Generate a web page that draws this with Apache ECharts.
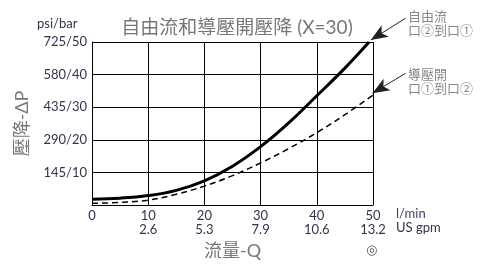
<!DOCTYPE html>
<html>
<head>
<meta charset="utf-8">
<style>
  html, body { margin: 0; padding: 0; background: #fff; }
  #chart { width: 493px; height: 272px; }
</style>
<script src="https://cdn.jsdelivr.net/npm/echarts@6/dist/echarts.min.js"></script>
</head>
<body>
<div id="chart"></div>
<script>
  // flow in l/min, pressure drop in bar
  const freeFlow = [[0, 1.8], [5, 2.1], [10, 2.9], [15, 4.5], [20, 7.4], [25, 11.9], [30, 17.9], [35, 25.2], [40, 33.5], [45, 42.0], [49.3, 50]];
  const pilotOpen = [[0, 0.5], [5, 0.8], [10, 1.5], [15, 3.3], [20, 5.8], [25, 9.0], [30, 12.9], [35, 17.3], [40, 22.2], [45, 27.7], [50, 33.7]];
  const lpmTicks = [0, 10, 20, 30, 40, 50];
  const gpmTicks = ['', '2.6', '5.3', '7.9', '10.6', '13.2'];
  const barTicks = [0, 10, 20, 30, 40, 50];
  const psiTicks = ['', '145', '290', '435', '580', '725'];
  // arrow annotations: [start, tip] in l/min / bar
  const arrowFree = [[55.8, 57.3], [49.6, 50.6]];
  const arrowPilot = [[55.8, 40.4], [49.9, 34.3]];

  const txt = '#33334a';
  const font = 'Lato, "Noto Sans CJK TC", sans-serif';

  const chart = echarts.init(document.getElementById('chart'), null, { renderer: 'canvas' });

  function arrowLine() {
    return {
      silent: true, symbol: ['none', 'arrow'], symbolSize: [10, 17],
      lineStyle: { color: '#222', width: 1, type: 'solid' }, label: { show: false },
      data: []
    };
  }

  chart.setOption({
    animation: false,
    title: {
      text: '自由流和導壓開壓降 (X=30)',
      left: 232, top: 13, textAlign: 'center',
      textStyle: { color: '#777', fontSize: 19, fontWeight: 'normal', fontFamily: font }
    },
    grid: { left: 92, right: 120, top: 42, bottom: 67 },
    xAxis: {
      type: 'value', min: 0, max: 50, interval: 10,
      name: '流量-Q', nameLocation: 'middle', nameGap: 28,
      nameTextStyle: { color: '#777', fontSize: 18, fontFamily: font },
      axisLine: { lineStyle: { color: '#000', width: 1 } },
      axisTick: { show: false },
      splitLine: { lineStyle: { color: '#000', width: 1 } },
      axisLabel: {
        color: txt, fontSize: 13, fontFamily: font, margin: 4, lineHeight: 14,
        formatter: (v) => {
          const i = lpmTicks.indexOf(v);
          return gpmTicks[i] ? v + '\n' + gpmTicks[i] : String(v);
        }
      }
    },
    yAxis: {
      type: 'value', min: 0, max: 50, interval: 10,
      name: '壓降-ΔP', nameLocation: 'middle', nameGap: 61, nameRotate: 90,
      nameTextStyle: { color: '#777', fontSize: 18, fontFamily: font },
      axisLine: { lineStyle: { color: '#000', width: 1 } },
      axisTick: { show: false },
      splitLine: { lineStyle: { color: '#000', width: 1 } },
      axisLabel: {
        color: txt, fontSize: 13, fontFamily: font, margin: 5,
        formatter: (v) => {
          const i = barTicks.indexOf(v);
          return psiTicks[i] ? psiTicks[i] + '/' + v : '';
        }
      }
    },
    series: [
      {
        type: 'line', data: freeFlow, smooth: 0.4, showSymbol: false, clip: false,
        lineStyle: { color: '#000', width: 3 },
        markLine: arrowLine()
      },
      {
        type: 'line', data: pilotOpen, smooth: 0.4, showSymbol: false, clip: false,
        lineStyle: { color: '#000', width: 1.5, type: [6, 4] },
        markLine: arrowLine()
      }
    ],
    graphic: [
      { type: 'text', left: 37, top: 17, style: { text: 'psi/bar', fill: txt, font: '13px ' + font } },
      { type: 'text', left: 396, top: 207, style: { text: 'l/min', fill: '#4a3a6a', font: '13px ' + font } },
      { type: 'text', left: 396, top: 221, style: { text: 'US gpm', fill: txt, font: '13px ' + font } },
      { type: 'text', left: 366, top: 244, style: { text: '◎', fill: '#555', font: '13px "DejaVu Sans"' } },
      { type: 'text', left: 408, top: 9, style: { text: '自由流\n口②到口①', fill: '#888', font: '13px "Noto Sans CJK TC"', lineHeight: 14 } },
      { type: 'text', left: 408, top: 67, style: { text: '導壓開\n口①到口②', fill: '#888', font: '13px "Noto Sans CJK TC"', lineHeight: 14 } }
    ]
  });

  // markLine coords outside the axis range get filtered, so convert to pixels
  function toPx(pair) {
    return pair.map((c) => {
      const p = chart.convertToPixel({ gridIndex: 0 }, c);
      return { x: p[0], y: p[1] };
    });
  }
  chart.setOption({
    series: [
      { markLine: { data: [toPx(arrowFree)] } },
      { markLine: { data: [toPx(arrowPilot)] } }
    ]
  });
</script>
</body>
</html>
